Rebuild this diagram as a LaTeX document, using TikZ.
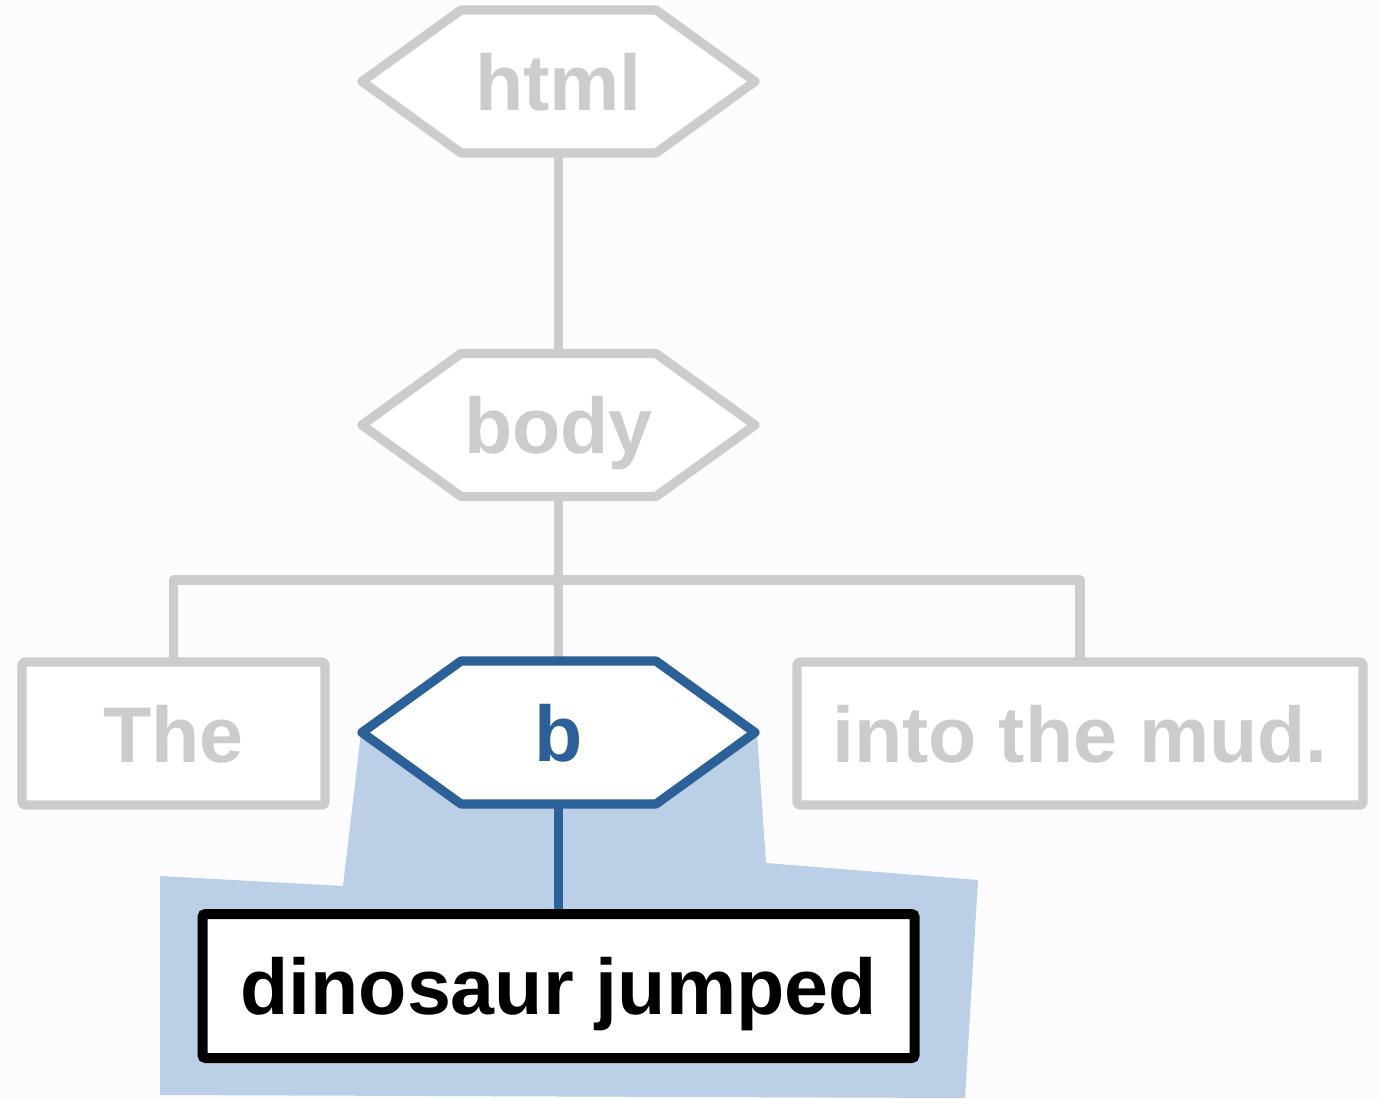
\documentclass[tikz,border=0pt]{standalone}
\usepackage{fontspec}
\setmainfont{Liberation Sans}
\definecolor{bgc}{HTML}{FCFCFE}
\definecolor{grayc}{HTML}{CCCCCC}
\definecolor{bluec}{HTML}{2C6099}
\definecolor{lightbluec}{HTML}{BBCFE7}
\pgfdeclarelayer{bg}
\pgfdeclarelayer{mid}
\pgfsetlayers{bg,mid,main}
\tikzset{
  lbl/.style={font=\bfseries\fontsize{39.5pt}{48pt}\selectfont, inner sep=0pt, outer sep=0pt,
    text height=28.5pt, text depth=0pt},
  hexnode/.style={lbl, minimum width=196.5pt, minimum height=71.5pt},
  boxnode/.style={lbl, draw, fill=white, rounded corners=1.5pt, minimum height=71.5pt},
  grayline/.style={draw=grayc, line width=4.6pt, line join=round},
  blueline/.style={draw=bluec, line width=4.6pt, line join=round},
  hexpath/.style={fill=white, line join=round}
}
\newcommand{\hexagonat}[2]{%
  \begin{pgfonlayer}{mid}
  \draw[#2, hexpath] (#1.west) -- ([xshift=49.5pt]#1.north west) -- ([xshift=-49.5pt]#1.north east)
     -- (#1.east) -- ([xshift=-49.5pt]#1.south east) -- ([xshift=49.5pt]#1.south west) -- cycle;
  \end{pgfonlayer}}
\begin{document}
\begin{tikzpicture}[x=0.5pt,y=-0.5pt]
\useasboundingbox (0,0) rectangle (1381,1098);

\begin{pgfonlayer}{bg}
% page background
\fill[bgc] (0,0) rectangle (1381,1098);
% highlight region
\fill[lightbluec] (361,733) -- (343,886) -- (160,876) -- (160,1095) -- (965,1098)
   -- (978,880) -- (766,863) -- (757,733) -- cycle;
\end{pgfonlayer}

% nodes
\node[hexnode, text=grayc] (html) at (558.5,81.5) {html};
\hexagonat{html}{grayline}
\node[hexnode, text=grayc] (body) at (558.5,425) {body};
\hexagonat{body}{grayline}
\node[hexnode, text=bluec] (b) at (558.5,732.5) {b};
\hexagonat{b}{blueline}
\node[boxnode, grayline, text=grayc, minimum width=151.5pt] (the) at (173.5,733.5) {The};
\node[boxnode, grayline, text=grayc, minimum width=283pt] (into) at (1080,733.5) {into the mud.};
\node[boxnode, draw=black, line width=5pt, text=black, minimum width=356pt, minimum height=72pt] (dino) at (558.5,986) {dinosaur jumped};

\coordinate (junction) at (558.5,580);

% connectors
\begin{pgfonlayer}{bg}
\draw[grayline] (html.south) -- (body.north);
\draw[grayline] (body.south) -- (b.north);
\draw[grayline] (the.north) |- (junction) -| (into.north);
\draw[blueline] (b.south) -- (dino.north);
\end{pgfonlayer}
\end{tikzpicture}
\end{document}
